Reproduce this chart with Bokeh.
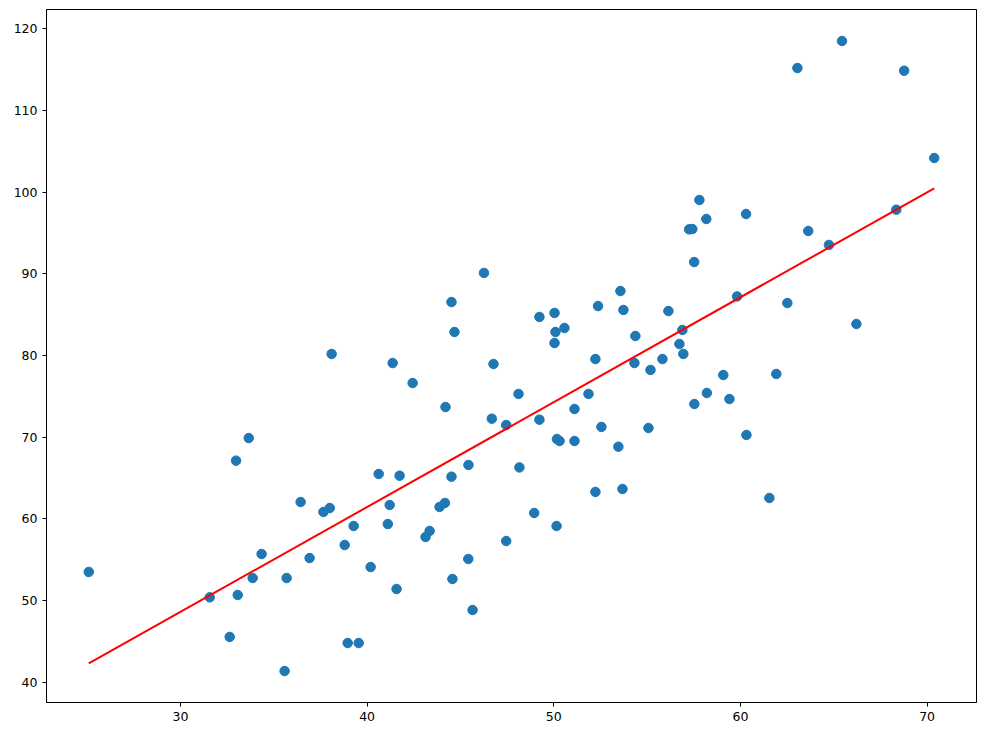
from bokeh.plotting import figure
from bokeh.models import Range1d, FixedTicker
from bokeh.embed import file_html
from bokeh.resources import INLINE

x_vals = [25.09, 33.66, 32.98, 36.44, 37.66, 38.0, 39.28, 38.8, 34.35, 36.92,
          33.87, 35.69, 31.57, 33.07, 32.64, 38.96, 39.55, 35.58, 40.19, 38.1,
          46.26, 44.52, 44.68, 41.37, 42.44, 44.20, 46.77, 48.11, 46.68, 47.45,
          49.23, 49.23, 50.04, 50.09, 50.57, 50.04, 52.37, 53.57, 53.73, 56.14,
          54.37, 52.23, 54.32, 55.18, 55.82, 56.73, 56.94, 56.89, 51.86, 51.11,
          52.55, 55.07, 50.17, 50.31, 51.11, 53.46, 45.43, 48.16, 40.62, 41.74,
          41.21, 41.11, 44.52, 43.88, 44.17, 43.13, 43.35, 41.58, 44.57, 45.42,
          45.65, 47.45, 48.95, 50.15, 52.23, 53.68, 65.44, 63.05, 68.77, 70.38,
          57.80, 58.17, 57.25, 57.42, 60.3, 63.63, 57.52, 64.74, 68.35, 59.82,
          62.51, 66.21, 59.08, 61.92, 58.2, 57.53, 59.41, 60.32, 61.55]
y_vals = [53.5, 69.9, 67.13, 62.07, 60.85, 61.33, 59.13, 56.8, 55.7, 55.2,
          52.76, 52.76, 50.39, 50.68, 45.54, 44.8, 44.8, 41.37, 54.1, 80.2,
          90.12, 86.56, 82.89, 79.09, 76.64, 73.7, 78.97, 75.3, 72.27, 71.5,
          72.15, 84.73, 85.22, 82.89, 83.38, 81.54, 86.07, 87.91, 85.59, 85.46,
          82.4, 79.58, 79.09, 78.24, 79.58, 81.42, 80.2, 83.14, 75.3, 73.46,
          71.26, 71.13, 69.78, 69.54, 69.54, 68.84, 66.6, 66.3, 65.5, 65.29,
          61.7, 59.37, 65.17, 61.46, 61.95, 57.78, 58.52, 51.41, 52.64, 55.09,
          48.84, 57.29, 60.72, 59.13, 63.3, 63.66, 118.53, 115.22, 114.89, 104.2,
          99.06, 96.73, 95.46, 95.5, 97.34, 95.26, 91.46, 93.55, 97.87, 87.25,
          86.44, 83.87, 77.62, 77.75, 75.42, 74.07, 74.68, 70.28, 62.56]

fit_x = [25.09, 70.38]
fit_y = [42.3, 100.48]

x_ticks = [30, 40, 50, 60, 70]
y_ticks = [40, 50, 60, 70, 80, 90, 100, 110, 120]

xmin, xmax = min(x_vals), max(x_vals)
ymin, ymax = min(y_vals), max(y_vals)
xpad = 0.05 * (xmax - xmin)
ypad = 0.05 * (ymax - ymin)

p = figure(output_backend="svg", toolbar_location=None,
           frame_width=930, frame_height=693,
           min_border_left=46, min_border_right=2,
           min_border_top=9, min_border_bottom=26,
           x_range=Range1d(xmin - xpad, xmax + xpad),
           y_range=Range1d(ymin - ypad, ymax + ypad))

p.scatter(x_vals, y_vals, size=9.5, color="#1f77b4", line_color="#1f77b4")
p.line(fit_x, fit_y, line_color="red", line_width=2)

p.grid.visible = False
p.outline_line_color = "black"
p.outline_line_width = 1
p.outline_line_alpha = 1

for ax in (p.xaxis[0], p.yaxis[0]):
    ax.major_label_text_font = "DejaVu Sans"
    ax.major_label_text_font_size = "12.5px"
    ax.major_label_text_color = "black"
    ax.major_tick_in = 0
    ax.major_tick_out = 4
    ax.major_tick_line_color = "black"
    ax.minor_tick_line_color = None
    ax.axis_line_color = "black"
    ax.major_label_standoff = 5

p.xaxis[0].ticker = FixedTicker(ticks=x_ticks)
p.yaxis[0].ticker = FixedTicker(ticks=y_ticks)

open("out.html", "w").write(file_html(p, INLINE))
